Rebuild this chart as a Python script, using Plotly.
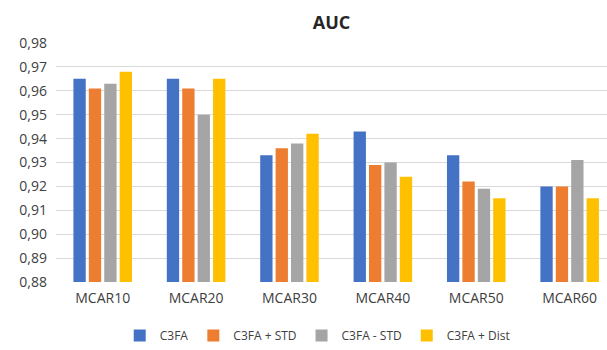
import plotly.graph_objects as go

categories = ["MCAR10", "MCAR20", "MCAR30", "MCAR40", "MCAR50", "MCAR60"]
series_names = ["C3FA", "C3FA + STD", "C3FA - STD", "C3FA + Dist"]
c3fa = [0.965, 0.965, 0.933, 0.943, 0.933, 0.920]
c3fa_std = [0.961, 0.961, 0.936, 0.929, 0.922, 0.920]
c3fa_minus_std = [0.963, 0.950, 0.938, 0.930, 0.919, 0.931]
c3fa_dist = [0.968, 0.965, 0.942, 0.924, 0.915, 0.915]
colors = ["#4472C4", "#ED7D31", "#A5A5A5", "#FFC000"]
y_ticks = [0.88, 0.89, 0.90, 0.91, 0.92, 0.93, 0.94, 0.95, 0.96, 0.97, 0.98]

fig = go.Figure()
for name, vals, col in zip(series_names, [c3fa, c3fa_std, c3fa_minus_std, c3fa_dist], colors):
    fig.add_trace(go.Bar(x=categories, y=vals, name=name, marker=dict(color=col, line=dict(width=0))))

font_family = "Open Sans, Liberation Sans, sans-serif"
fig.update_layout(
    width=607, height=350,
    margin=dict(l=56, r=0, t=43, b=68),
    paper_bgcolor="white", plot_bgcolor="white",
    separators=",.",
    barmode="group", bargap=0.34, bargroupgap=0.2,
    title=dict(text="<b>AUC</b>", x=0.5, xref="paper", xanchor="center", y=0.935, yanchor="middle",
               font=dict(family=font_family, size=18, color="#262626")),
    font=dict(family=font_family, color="#404040"),
    legend=dict(orientation="h", x=0.475, xanchor="center", y=0.0, yref="container", yanchor="bottom",
                font=dict(size=12, color="#404040"), itemsizing="constant", traceorder="normal",
                itemwidth=30),
    showlegend=True,
)
fig.update_xaxes(type="category", range=[-0.5, 5.4], showgrid=False, showline=False, ticks="",
                 tickfont=dict(size=14, color="#404040"), ticklabelstandoff=6)
fig.update_yaxes(range=[0.88, 0.98], tickvals=y_ticks, tickformat=".2f", showgrid=True,
                 gridcolor="#D9D9D9", gridwidth=1, zeroline=False, showline=False,
                 tickfont=dict(size=14, color="#404040"), ticks="", ticklabelstandoff=8)

fig.write_html("out.html", config={"displayModeBar": False},
               post_script="document.body.style.margin='0';")
